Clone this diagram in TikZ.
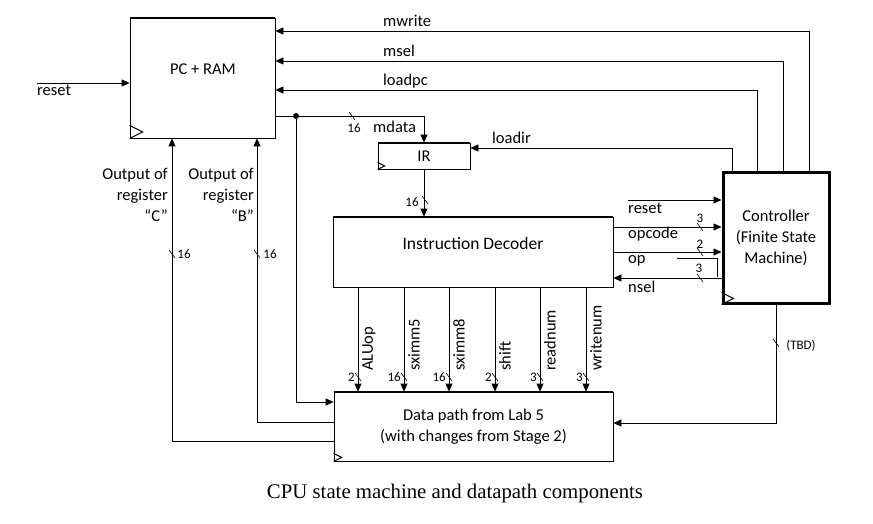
\documentclass[tikz,border=0pt]{standalone}
\usepackage{fontspec}
\setmainfont{Carlito}
\newfontfamily\capfont{Liberation Serif}
\usetikzlibrary{arrows.meta}

\tikzset{
  blk/.style={draw, line width=0.8pt, inner sep=0pt, align=center, font=\fontsize{16.5}{21.5}\selectfont},
  ctrlblk/.style={draw, line width=3pt, inner sep=0pt, align=center, font=\fontsize{16.5}{21}\selectfont},
  sig/.style={line width=0.8pt, -{Triangle[length=8pt,width=7pt]}},
  wire/.style={line width=0.8pt},
  lbl/.style={inner sep=0pt, align=right, font=\fontsize{16.5}{21}\selectfont},
  bits/.style={inner sep=0pt, font=\fontsize{13}{15}\selectfont},
}

\begin{document}
\begin{tikzpicture}[x=1pt,y=1pt,yscale=-1,xscale=1]
\useasboundingbox (0,0) rectangle (873,524);

% blocks
\node[blk, minimum width=145, minimum height=120] (pcram) at (202.5,78) {};
\node[lbl] (pcramtext) at (203,69) {PC + RAM};
\node[blk, minimum width=92, minimum height=26] (ir) at (424,156) {IR};
\node[blk, minimum width=280, minimum height=70] (dec) at (473,252) {};
\node[lbl, font=\fontsize{17.5}{21}\selectfont] (dectext) at (473,243) {Instruction Decoder};
\node[blk, minimum width=279, minimum height=69] (dp) at (473.5,426.5) {Data path from Lab 5\\(with changes from Stage 2)};
\node[ctrlblk, minimum width=106, minimum height=130] (ctrl) at (776,238) {Controller\\(Finite State\\Machine)};

% thick top edges and clock marks
\foreach \n in {pcram,ir,dec,dp}
  \draw[line width=1.8pt] (\n.north west) -- (\n.north east);
\foreach \n/\s in {pcram/13,ir/7,dp/8,ctrl/12}
  \draw[line width=1pt] (\n.south west) ++(0,-\s) -- ++(\s,\s/2) -- ++(-\s,\s/2);

% controller to PC + RAM and IR
\draw[sig] (ctrl.north -| 809,0) |- (pcram.east |- 0,31);
\draw[sig] (ctrl.north -| 783,0) |- (pcram.east |- 0,61);
\draw[sig] (ctrl.north -| 757,0) |- (pcram.east |- 0,90);
\draw[sig] (ctrl.north -| 732,0) |- (ir.east |- 0,148);
\node[lbl, anchor=base west] (mwrite) at (383,27) {mwrite};
\node[lbl, anchor=base west] (msel) at (383,57) {msel};
\node[lbl, anchor=base west] (loadpc) at (383,86) {loadpc};
\node[lbl, anchor=base west] (loadir) at (492,144) {loadir};

% reset into PC + RAM
\coordinate (rstin) at (37,83);
\draw[sig] (rstin) -- (pcram.west |- rstin);
\node[lbl, anchor=base west] (rstl) at (37,96) {reset};

% mdata
\coordinate (mdot) at (296,116);
\draw[sig] (pcram.east |- mdot) -| (ir.north);
\fill (mdot) circle (3);
\draw[sig] (mdot) |- (dp.west |- 0,402);
\node[bits] (mdatabits) at (354,128) {16};
\node[lbl, anchor=base west] (mdata) at (373,133) {mdata};

% IR to decoder
\draw[sig] (ir.south) -- (dec.north -| ir.south);
\node[bits] (irbits) at (412,202) {16};

% decoder and controller
\coordinate (rstc) at (628,200);
\draw[sig] (rstc) -- (ctrl.west |- rstc);
\draw[sig] (dec.east |- 0,227) -- (ctrl.west |- 0,227);
\draw[sig] (dec.east) -- (ctrl.west |- dec.east);
\draw[sig] (ctrl.west |- 0,278) -- (dec.east |- 0,278);
\draw[line width=0.6pt] (677,258) -- (717,258) -- (717,277);
\node[lbl, anchor=base west] (rstcl) at (628,213) {reset};
\node[lbl, anchor=base west] (opcode) at (628,238) {opcode};
\node[lbl, anchor=base west] (op) at (628,263) {op};
\node[lbl, anchor=base west] (nsel) at (628,292) {nsel};
\node[bits] (opcodebits) at (700,218) {3};
\node[bits] (opbits) at (700,244) {2};
\node[bits] (nselbits) at (699,268) {3};

% controller to datapath
\draw[sig] (ctrl.south) |- (dp.east |- 0,423);
\node[bits] (tbd) at (801,346) {(TBD)};

% datapath back to PC + RAM
\draw[sig] (dp.west |- 0,422) -| (pcram.south -| 257,0);
\draw[sig] (dp.west |- 0,441) -| (pcram.south -| 172,0);
\node[lbl, anchor=north east] (regc) at (168,168) {Output of\\register\\``C''};
\node[lbl, anchor=north east] (regb) at (254,168) {Output of\\register\\``B''};
\node[bits] (regcbits) at (184,254) {16};
\node[bits] (regbbits) at (270,254) {16};

% bus width marks
\foreach \tx/\ty in {352/116, 425/200, 700/227, 700/252, 700/278, 776/343, 172/254, 257/254}
  \draw[line width=0.6pt] (\tx-3,\ty-4) -- (\tx+3,\ty+4);

% decoder outputs
\foreach \px/\nm/\w in {358/ALUop/2, 404/sximm5/16, 449/sximm8/16, 495/shift/2, 540/readnum/3, 586/writenum/3} {
  \draw[sig] (dec.south -| \px,0) -- (dp.north -| \px,0);
  \node[lbl, rotate=90, anchor=north west] (\nm) at (\px+4,371) {\nm};
  \node[bits, anchor=east] (\nm bits) at (\px-3,377) {\w};
  \draw[line width=0.6pt] (\px-3,373) -- (\px+3,381);
}

\node[inner sep=0pt, font=\capfont\fontsize{20.8}{24}\selectfont] (caption) at (455,493) {CPU state machine and datapath components};

\end{tikzpicture}
\end{document}
